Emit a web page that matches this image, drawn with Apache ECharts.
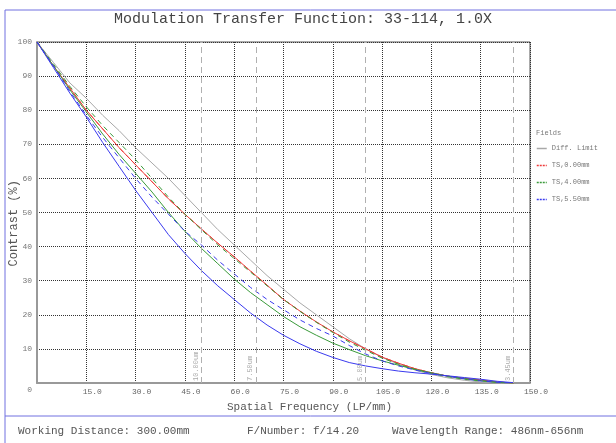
<!DOCTYPE html>
<html>
<head>
<meta charset="utf-8">
<script src="https://cdn.jsdelivr.net/npm/echarts@6/dist/echarts.min.js"></script>
<style>
html,body{margin:0;padding:0;background:#fff;}
#chart{width:616px;height:443px;}
</style>
</head>
<body>
<div id="chart"></div>
<script>
// ---- data ----
var titleText = 'Modulation Transfer Function: 33-114, 1.0X';
var xName = 'Spatial Frequency (LP/mm)';
var yName = 'Contrast (%)';
var footerTexts = ['Working Distance: 300.00mm', 'F/Number: f/14.20', 'Wavelength Range: 486nm-656nm'];
var legendTitle = 'Fields';
var seriesNames = ['Diff. Limit', 'TS,0.00mm', 'TS,4.00mm', 'TS,5.50mm'];

var freq = [0,5,10,15,20,25,30,35,40,45,50,55,60,65,70,75,80,85,90,95,100,105,110,115,120,125,130,135,140,145];

var diffLimit = [100,94,88,83.5,78.5,74,69,64.5,60,55,50,45,40.5,36,31.5,27.5,23.5,20,16.5,13,10,7.5,5.5,3.8,2.5,1.5,0.8,0.3,0.05,0];
var ts000T = [100,93,86.5,80,74.5,69,64,59,54,49.5,45.2,41,37,32.8,28.7,24.5,21.1,17.9,15,12.4,10,7.6,5.8,4.2,3,2,1.4,0.9,0.3,0];
var ts000S = [100,93,86.5,80,74.5,69,64,59,54,49.5,45.2,41,37,32.8,28.7,24.5,21.1,17.9,15,12.4,10,7.6,5.8,4.2,3,2,1.4,0.9,0.3,0];
var ts400T = [100,93,86,79.5,73,67,61.5,56,50,44.5,39.5,35,30.5,26.5,23,19.5,16.5,14,11.7,9.8,8,6.5,5.2,4,3,2,1.3,0.7,0.2,0];
var ts400S = [100,93.5,87,81,75.5,70.5,65.5,60,54.5,49.5,45,40.5,36.5,32.5,28.5,24.5,21,17.8,14.8,12,9.6,7.3,5.5,4,2.8,1.8,1.1,0.6,0.2,0];
var ts550T = [100,92.5,85,78,70.5,63.5,56.5,50,43.5,38,33,28.5,24.5,20.5,17,14,11.5,9.3,7.5,6,5,4.2,3.5,3,2.6,2.1,1.6,1.1,0.5,0.1];
var ts550S = [100,93,85.5,78.5,72,66,60,54.5,49.5,44.5,40.5,36,32,28,24.5,21.5,18.5,16,13.8,11,8.5,6.5,5,3.8,2.8,2,1.2,0.6,0.2,0];

var nyquistFreq = [50, 66.67, 100, 144.93];
var nyquistLabels = ['10.00um', '7.50um', '5.00um', '3.45um'];

// ---- chart ----
var MONO = '"Liberation Mono", "DejaVu Sans Mono", monospace';
var cGray = '#a8a8a8', cRed = '#ee3a3a', cGreen = '#3a9a3a', cBlue = '#3a3aee';

function pairs(y){ return freq.map(function(f,i){ return [f, y[i]]; }); }

function lineSeries(name, data, color, dashed){
  return {
    name: name, type: 'line', data: pairs(data), symbol: 'none', smooth: false,
    lineStyle: {color: color, width: 1, type: dashed ? [5,4] : 'solid'},
    itemStyle: {color: color}, silent: true, animation: false, z: 3
  };
}

var chart = echarts.init(document.getElementById('chart'), null, {renderer: 'canvas'});

var titles = [{
  text: titleText, left: 114, top: 12, padding: 0,
  textStyle: {fontFamily: MONO, fontSize: 15, fontWeight: 'normal', color: '#444'}
}];
var footerLeft = [18, 247, 392];
footerTexts.forEach(function(t, i){
  titles.push({text: t, left: footerLeft[i], top: 426, padding: 0,
    textStyle: {fontFamily: MONO, fontSize: 11, fontWeight: 'normal', color: '#555'}});
});
titles.push({text: legendTitle, left: 536, top: 130, padding: 0,
  textStyle: {fontFamily: MONO, fontSize: 7, fontWeight: 'normal', color: '#777'}});

var option = {
  backgroundColor: '#fff',
  animation: false,
  title: titles,
  grid: {left: 37, right: 86, top: 42, bottom: 60, containLabel: false, outerBoundsMode: 'none',
    show: true, borderColor: '#555', borderWidth: 1},
  legend: {
    orient: 'vertical', left: 536, top: 145, padding: 0, itemGap: 10, itemWidth: 10, itemHeight: 6,
    textStyle: {fontFamily: MONO, fontSize: 7, color: '#777'},
    data: seriesNames.map(function(n, i){
      var cols = [cGray, cRed, cGreen, cBlue];
      return {name: n, lineStyle: {color: cols[i], width: 1.5, type: i === 0 ? 'solid' : [2,1]}, itemStyle: {opacity: 0}};
    })
  },
  xAxis: {
    type: 'value', min: 0, max: 150, interval: 15,
    name: xName, nameLocation: 'middle', nameGap: 19, nameMoveOverlap: false,
    nameTextStyle: {fontFamily: MONO, fontSize: 11, color: '#555', padding: [0,0,0,52]},
    axisLine: {show: true, onZero: false, lineStyle: {color: '#999', width: 2}},
    axisTick: {show: false},
    axisLabel: {fontFamily: MONO, fontSize: 8, color: '#666', margin: 5, padding: [0,0,0,12],
      formatter: function(v){ return v === 0 ? '' : v.toFixed(1); }},
    splitLine: {show: true, lineStyle: {color: '#333', width: 1, type: [1,1]}}
  },
  yAxis: {
    type: 'value', min: 0, max: 100, interval: 10,
    name: yName + '   ', nameLocation: 'middle', nameGap: 17, nameRotate: 90, nameMoveOverlap: false,
    nameTextStyle: {fontFamily: MONO, fontSize: 12, color: '#555'},
    axisLine: {show: true, lineStyle: {color: '#999', width: 2}},
    axisTick: {show: false},
    axisLabel: {fontFamily: MONO, fontSize: 8, color: '#777', margin: 5,
      formatter: function(v){ return v === 0 ? '{z|0}' : String(v); },
      rich: {z: {fontFamily: MONO, fontSize: 8, color: '#777', padding: [14,0,0,0]}}},
    splitLine: {show: true, lineStyle: {color: '#333', width: 1, type: [1,1]}}
  },
  graphic: [
    {type: 'line', shape: {x1: 5, y1: 10, x2: 616, y2: 10}, style: {stroke: '#7070e0', lineWidth: 1}, silent: true},
    {type: 'line', shape: {x1: 5, y1: 10, x2: 5, y2: 443}, style: {stroke: '#7070e0', lineWidth: 1}, silent: true},
    {type: 'line', shape: {x1: 5, y1: 416, x2: 616, y2: 416}, style: {stroke: '#7070e0', lineWidth: 1}, silent: true}
  ],
  series: [
    {
      name: 'nyquist', type: 'line', data: [], silent: true, animation: false,
      markLine: {
        symbol: 'none', silent: true, animation: false,
        lineStyle: {color: '#b0b0b0', type: [6,4], width: 1},
        label: {show: true, position: 'insideStartTop', distance: 2, fontFamily: MONO, fontSize: 7, color: '#aaa',
          formatter: function(p){ return p.name; }},
        data: nyquistFreq.map(function(f, i){ return {xAxis: f, name: nyquistLabels[i]}; })
      }
    },
    lineSeries(seriesNames[0], diffLimit, cGray, false),
    lineSeries(seriesNames[1], ts000S, cRed, true),
    lineSeries(seriesNames[1], ts000T, cRed, false),
    lineSeries(seriesNames[2], ts400S, cGreen, true),
    lineSeries(seriesNames[2], ts400T, cGreen, false),
    lineSeries(seriesNames[3], ts550S, cBlue, true),
    lineSeries(seriesNames[3], ts550T, cBlue, false)
  ]
};
chart.setOption(option);
</script>
</body>
</html>
